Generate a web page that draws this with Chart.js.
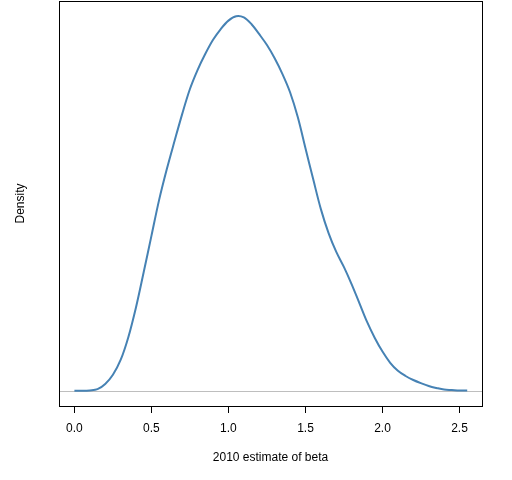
<!DOCTYPE html>
<html lang="en">
<head>
    <meta charset="UTF-8">
    <title>Density of 2010 beta estimates</title>
    <script src="https://cdn.jsdelivr.net/npm/chart.js@4.4.1/dist/chart.umd.min.js"></script>
    <style>
        body { margin: 0; background: #fff; }
    </style>
</head>
<body>
    <canvas id="densityChart" width="512" height="480"></canvas>

<script>
    // kernel density estimate, step 0.05
    let betaValues = [
        0.00, 0.05, 0.10, 0.15, 0.20, 0.25, 0.30, 0.35, 0.40, 0.45,
        0.50, 0.55, 0.60, 0.65, 0.70, 0.75, 0.80, 0.85, 0.90, 0.95,
        1.00, 1.05, 1.10, 1.15, 1.20, 1.25, 1.30, 1.35, 1.40, 1.45,
        1.50, 1.55, 1.60, 1.65, 1.70, 1.75, 1.80, 1.85, 1.90, 1.95,
        2.00, 2.05, 2.10, 2.15, 2.20, 2.25, 2.30, 2.35, 2.40, 2.45,
        2.50, 2.55
    ];
    let densityValues = [
        0.001, 0.001, 0.002, 0.005, 0.018, 0.041, 0.078, 0.135, 0.210, 0.298,
        0.388, 0.478, 0.555, 0.625, 0.693, 0.755, 0.803, 0.843, 0.878, 0.905,
        0.926, 0.937, 0.934, 0.917, 0.892, 0.865, 0.832, 0.793, 0.747, 0.685,
        0.607, 0.530, 0.455, 0.395, 0.348, 0.310, 0.267, 0.220, 0.173, 0.133,
        0.099, 0.071, 0.051, 0.038, 0.028, 0.020, 0.013, 0.008, 0.004, 0.003,
        0.002, 0.002
    ];
    let xTicks = [0.0, 0.5, 1.0, 1.5, 2.0, 2.5];
    let zeroLine = [0];

    let points = [];
    for (let i = 0; i < betaValues.length; i++) {
        points.push({x: betaValues[i], y: densityValues[i]});
    }

    // R style frame round the plot region
    let boxPlugin = {
        id: "box",
        afterDraw(chart) {
            let a = chart.chartArea;
            let ctx = chart.ctx;
            ctx.save();
            ctx.strokeStyle = "#000";
            ctx.lineWidth = 1;
            ctx.strokeRect(Math.round(a.left) + 0.5, Math.round(a.top) + 0.5,
                Math.round(a.right - a.left), Math.round(a.bottom - a.top));
            ctx.restore();
        }
    };

    let font = {family: "'Liberation Sans', Arial, sans-serif", size: 12};

    new Chart("densityChart", {
        type: "line",
        data: {
            datasets: [{
                data: points,
                borderColor: "#4682B4",
                borderWidth: 2,
                pointRadius: 0,
                fill: false,
                tension: 0.35
            }]
        },
        options: {
            responsive: false,
            animation: false,
            devicePixelRatio: 1,
            layout: {padding: {top: 1, right: 30, bottom: 0, left: 0}},
            plugins: {
                legend: {display: false},
                tooltip: {enabled: false}
            },
            scales: {
                x: {
                    type: "linear",
                    min: -0.1,
                    max: 2.646,
                    afterBuildTicks: function (scale) {
                        scale.ticks = xTicks.map(v => ({value: v}));
                    },
                    afterFit: function (scale) {
                        scale.height = 74;
                    },
                    border: {display: false},
                    grid: {
                        drawOnChartArea: false,
                        drawTicks: true,
                        tickLength: 7,
                        color: "#000"
                    },
                    ticks: {
                        color: "#000",
                        font: font,
                        padding: 8,
                        maxRotation: 0,
                        callback: v => v.toFixed(1)
                    },
                    title: {
                        display: true,
                        text: "2010 estimate of beta",
                        color: "#000",
                        font: font,
                        padding: {top: 0, bottom: 15}
                    }
                },
                y: {
                    min: -0.037,
                    max: 0.975,
                    afterBuildTicks: function (scale) {
                        scale.ticks = zeroLine.map(v => ({value: v}));
                    },
                    afterFit: function (scale) {
                        scale.width = 59;
                    },
                    border: {display: false},
                    grid: {
                        drawTicks: false,
                        color: "#BEBEBE",
                        lineWidth: 1
                    },
                    ticks: {display: false},
                    title: {
                        display: true,
                        text: "Density",
                        color: "#000",
                        font: font,
                        padding: {top: 13, bottom: 0}
                    }
                }
            }
        },
        plugins: [boxPlugin]
    });
</script>
</body>
</html>
